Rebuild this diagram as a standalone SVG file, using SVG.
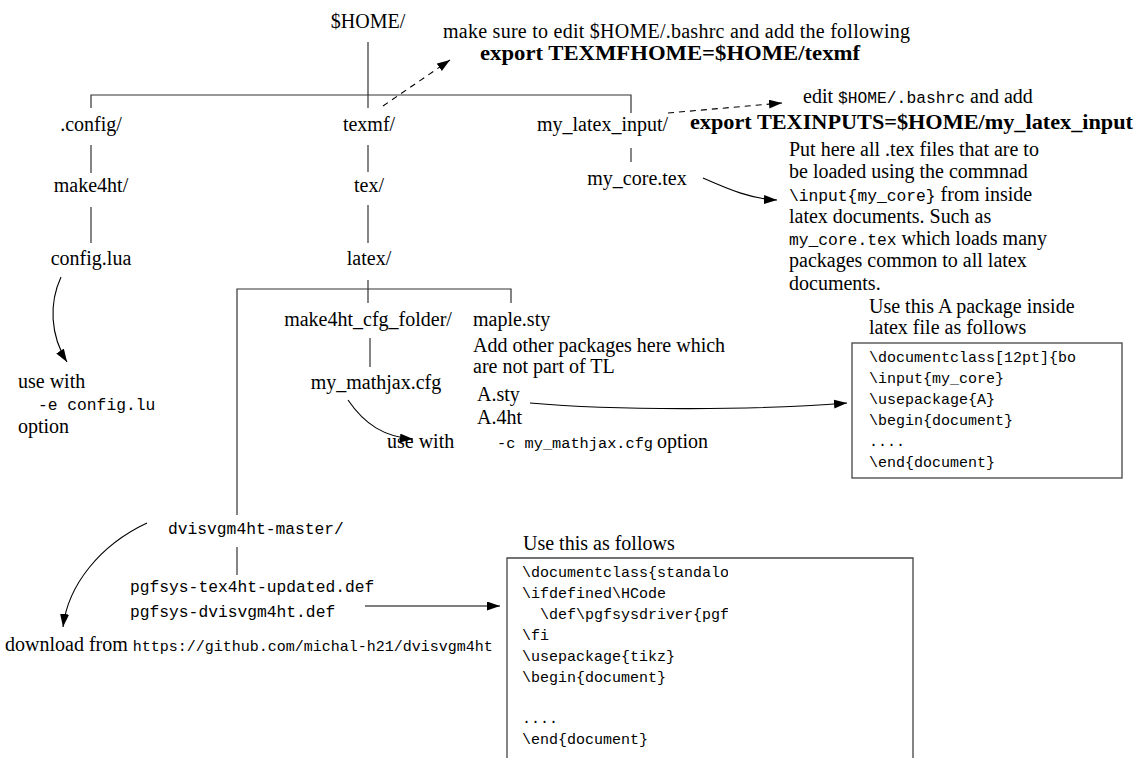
<svg xmlns="http://www.w3.org/2000/svg" width="1135" height="758" viewBox="0 0 1135 758">
<style>
.s{font-family:"Liberation Serif",serif;font-size:20px;fill:#000}
.b{font-family:"Liberation Serif",serif;font-size:20px;font-weight:bold;fill:#000}
.m{font-family:"Liberation Mono",monospace;font-size:16.3px}
.c{font-family:"Liberation Mono",monospace;font-size:15px;fill:#000}
.mid{text-anchor:middle}
.ln{stroke:#333;stroke-width:1.2;fill:none}
.ar{stroke:#000;stroke-width:1.1;fill:none;marker-end:url(#ah)}
.dash{stroke-dasharray:6 5}
.box{stroke:#444;stroke-width:1.3;fill:none}
</style>
<defs>
<marker id="ah" markerUnits="userSpaceOnUse" markerWidth="14" markerHeight="10" refX="13" refY="4.5" orient="auto">
<path d="M0,0 L13,4.5 L0,9 z" fill="#000"/>
</marker>
<clipPath id="clip1"><rect x="852" y="343" width="229" height="135"/></clipPath>
<clipPath id="clip2"><rect x="507" y="558" width="221" height="210"/></clipPath>
</defs>

<g id="connectors">
<path class="ln" d="M368,42 V108"/>
<path class="ln" d="M91,108 V95 H631 V113"/>
<path class="ln" d="M91,145 V173"/>
<path class="ln" d="M368,145 V172"/>
<path class="ln" d="M631,148 V162"/>
<path class="ln" d="M91,207 V243"/>
<path class="ln" d="M368,205 V243"/>
<path class="ln" d="M368,280 V303"/>
<path class="ln" d="M237,515 V289 H511 V303"/>
<path class="ln" d="M370,338 V367"/>
<path class="ln" d="M237,547 V575"/>
<path class="ar dash" d="M383,106 L450,60"/>
<path class="ar dash" d="M668,113 L782,103"/>
<path class="ar" d="M703,178 C730,190 752,199 777,200"/>
<path class="ar" d="M61,277 C49,303 50,335 67,362"/>
<path class="ar" d="M530,403 C620,411 760,410 847,403"/>
<path class="ar" d="M348,400 C365,425 385,437 413,439"/>
<path class="ar" d="M147,523 C100,545 68,585 63,627"/>
<path class="ar" d="M365,606 L500,606"/>
</g>

<g id="home"><text class="s mid" x="368" y="28">$HOME/</text></g>
<g id="note-texmf">
<text class="s" x="443" y="38" textLength="467" lengthAdjust="spacing">make sure to edit $HOME/.bashrc and add the following</text>
<text class="b" x="480" y="60" textLength="380" lengthAdjust="spacingAndGlyphs">export TEXMFHOME=$HOME/texmf</text>
</g>
<g id="config"><text class="s mid" x="91" y="131">.config/</text></g>
<g id="texmf"><text class="s mid" x="369" y="131">texmf/</text></g>
<g id="mylatexinput"><text class="s" x="537" y="131">my_latex_input/</text></g>
<g id="note-texinputs">
<text class="s" x="803" y="103">edit <tspan class="m">$HOME/.bashrc</tspan> and add</text>
<text class="b" x="690" y="129" textLength="443" lengthAdjust="spacingAndGlyphs">export TEXINPUTS=$HOME/my_latex_input</text>
</g>
<g id="make4ht"><text class="s mid" x="91" y="192">make4ht/</text></g>
<g id="tex"><text class="s mid" x="369" y="192">tex/</text></g>
<g id="mycore"><text class="s mid" x="637" y="185">my_core.tex</text></g>
<g id="note-mycore">
<text class="s" x="789" y="156">Put here all .tex files that are to</text>
<text class="s" x="789" y="178">be loaded using the commnad</text>
<text class="s" x="789" y="201"><tspan class="m">\input{my_core}</tspan> from inside</text>
<text class="s" x="789" y="223">latex documents. Such as</text>
<text class="s" x="789" y="245"><tspan class="m">my_core.tex</tspan> which loads many</text>
<text class="s" x="789" y="267">packages common to all latex</text>
<text class="s" x="789" y="290">documents.</text>
</g>
<g id="configlua"><text class="s mid" x="91" y="265">config.lua</text></g>
<g id="latex"><text class="s mid" x="369" y="265">latex/</text></g>
<g id="usewith-e">
<text class="s" x="18" y="388">use with</text>
<text class="m" x="38" y="410">-e config.lu</text>
<text class="s" x="18" y="433">option</text>
</g>
<g id="cfgfolder"><text class="s mid" x="368" y="326">make4ht_cfg_folder/</text></g>
<g id="maple"><text class="s" x="473" y="326">maple.sty</text></g>
<g id="note-other">
<text class="s" x="473" y="352">Add other packages here which</text>
<text class="s" x="473" y="373">are not part of TL</text>
</g>
<g id="asty">
<text class="s" x="477" y="401">A.sty</text>
<text class="s" x="477" y="424">A.4ht</text>
</g>
<g id="mathjax"><text class="s mid" x="376" y="389">my_mathjax.cfg</text></g>
<g id="usewith-c">
<text class="s" x="387" y="448">use with</text>
<text class="c" x="497" y="448" style="font-size:15.3px">-c my_mathjax.cfg</text>
<text class="s" x="657" y="448">option</text>
</g>
<g id="box1">
<text class="s" x="869" y="313">Use this A package inside</text>
<text class="s" x="869" y="334">latex file as follows</text>
<rect class="box" x="852" y="343" width="270" height="135"/>
<g clip-path="url(#clip1)">
<text class="c" x="869" y="362">\documentclass[12pt]{bo</text>
<text class="c" x="869" y="383">\input{my_core}</text>
<text class="c" x="869" y="404">\usepackage{A}</text>
<text class="c" x="869" y="425">\begin{document}</text>
<text class="c" x="869" y="446">....</text>
<text class="c" x="869" y="467">\end{document}</text>
</g>
</g>
<g id="dvisvgm"><text class="m" x="168" y="534">dvisvgm4ht-master/</text></g>
<g id="pgfsys">
<text class="m" x="130" y="592">pgfsys-tex4ht-updated.def</text>
<text class="m" x="130" y="617">pgfsys-dvisvgm4ht.def</text>
</g>
<g id="download"><text class="s" x="5" y="651">download from <tspan class="c">https://github.com/michal-h21/dvisvgm4ht</tspan></text></g>
<g id="box2">
<text class="s" x="523" y="550">Use this as follows</text>
<path class="box" d="M507,770 V558 H913 V770"/>
<g clip-path="url(#clip2)">
<text class="c" x="522" y="577">\documentclass{standalo</text>
<text class="c" x="522" y="598">\ifdefined\HCode</text>
<text class="c" x="540" y="619">\def\pgfsysdriver{pgf</text>
<text class="c" x="522" y="640">\fi</text>
<text class="c" x="522" y="661">\usepackage{tikz}</text>
<text class="c" x="522" y="682">\begin{document}</text>
<text class="c" x="522" y="723">....</text>
<text class="c" x="522" y="744">\end{document}</text>
</g>
</g>
</svg>
